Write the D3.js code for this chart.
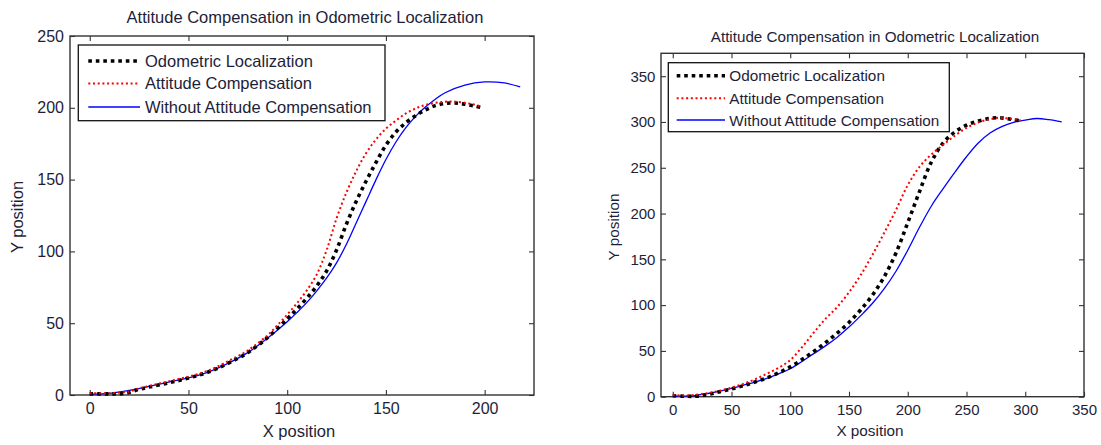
<!DOCTYPE html>
<html>
<head>
<meta charset="utf-8">
<script src="https://cdn.jsdelivr.net/npm/d3@7/dist/d3.min.js"></script>
<style>
  html, body { margin: 0; padding: 0; background: #fff; }
  svg { display: block; }
  text { font-family: Arial, "Liberation Sans", sans-serif; fill: #1e1e38; }
</style>
</head>
<body>
<svg id="chart" width="1101" height="445"></svg>
<script>
// ---------------- DATA ----------------
const chartTitle = "Attitude Compensation in Odometric Localization";
const seriesNames = ["Odometric Localization", "Attitude Compensation", "Without Attitude Compensation"];
const xLabel = "X position";
const yLabel = "Y position";

// Left panel
const leftXTicks = [0, 50, 100, 150, 200];
const leftYTicks = [0, 50, 100, 150, 200, 250];
const leftOdometric = [[0,0.8],[10,0.8],[18,1.2],[25,4],[30,5.5],[40,8.5],[50,11.8],[60,16],[70,22],[80,29.5],[90,40],[100,53],[105,60],[110,67.5],[115,76],[120,86.5],[125,101],[130,119],[135,135],[140,149],[145,162],[150,174],[155,183],[160,189.5],[165,194.5],[170,198.5],[175,201.5],[180,203],[185,203.3],[190,202.5],[195,201.2],[199,200]];
const leftAttitude = [[0,1.2],[10,1.3],[20,2.5],[26,5],[30,6.3],[40,9.5],[50,12.8],[60,17],[70,23.5],[80,31],[90,41.5],[95,48.5],[100,56],[105,64],[110,73],[115,84],[120,101],[125,123],[130,141],[135,156],[140,168.5],[145,178],[150,185.5],[155,191],[160,196],[165,199.5],[170,202],[178,204],[185,204.3],[192,203],[198,201]];
const leftWithout = [[0,0.5],[10,1.2],[20,3.2],[30,6],[40,9],[50,12],[60,16],[70,22],[80,29.5],[90,39.5],[100,51],[105,57.5],[110,64.5],[115,72.5],[120,81.5],[125,92],[130,105],[135,120],[140,135],[145,150],[150,164],[155,176],[160,186],[165,194],[170,200.5],[175,206],[180,210.5],[190,215.8],[200,218],[210,217.3],[218,214.5]];

// Right panel
const rightXTicks = [0, 50, 100, 150, 200, 250, 300, 350];
const rightYTicks = [0, 50, 100, 150, 200, 250, 300, 350];
const rightOdometric = [[0,1],[10,0.5],[20,0.6],[30,2.5],[40,5.5],[50,8.5],[60,12],[70,16],[80,20.5],[90,26],[100,32.5],[110,40.5],[120,49.5],[130,59],[140,69.5],[150,81],[160,95],[170,111],[180,131],[190,157],[200,190],[210,224],[220,256],[230,277],[240,289],[250,296.5],[260,301],[270,304],[278,304.6],[288,303],[297,301]];
const rightAttitude = [[0,1.8],[10,1.2],[20,2.2],[30,4],[40,6.5],[50,10],[60,14],[70,19],[80,25],[90,31.5],[100,40],[110,54],[120,70],[130,85],[140,98],[150,114],[160,133],[170,155],[180,179],[190,204],[200,231],[210,251],[220,264.5],[230,275],[240,285],[250,293.5],[260,299.5],[270,303],[278,304.6],[287,303.5],[296,302]];
const rightWithout = [[0,0.7],[10,0.7],[20,1.5],[30,3.5],[40,6],[50,9],[60,12.5],[70,16],[80,20],[90,25],[100,30.5],[110,38.5],[120,47],[130,55.5],[140,65],[150,76],[160,88.5],[170,102],[180,118],[190,137],[200,160],[210,185],[220,208],[230,227],[240,245],[250,262],[260,277],[270,288],[280,295],[290,299.5],[300,302],[310,303.8],[320,302.5],[331,300]];

// ---------------- STYLE ----------------
const styles = [
  { color: "#000000", width: 3.6, dash: "3.6,3.9" },
  { color: "#ff0000", width: 2.0, dash: "2,2.7" },
  { color: "#0000ff", width: 1.3, dash: null }
];

const svg = d3.select("#chart");

function panel(cfg) {
  const g = svg.append("g");
  const x = d3.scaleLinear().domain(cfg.xDomain).range([cfg.left, cfg.right]);
  const y = d3.scaleLinear().domain(cfg.yDomain).range([cfg.bottom, cfg.top]);
  const fs = cfg.fontSize;

  // title
  g.append("text").attr("x", cfg.titleX).attr("y", cfg.titleY)
    .attr("text-anchor", "middle").style("font-size", cfg.titleSize + "px").text(chartTitle);

  // axes
  const ax = (gen, tr, vals, pad, labels) => {
    const a = g.append("g").attr("transform", tr)
      .call(gen.tickValues(vals).tickSizeInner(-5).tickSizeOuter(0).tickPadding(pad)
        .tickFormat(labels ? d3.format("d") : () => ""));
    a.select(".domain").remove();
    a.selectAll("line").attr("stroke", "#333").attr("stroke-width", 1.1);
    a.selectAll("text").style("font-size", fs + "px").attr("fill", "#1e1e38");
    return a;
  };
  ax(d3.axisBottom(x), `translate(0,${cfg.bottom})`, cfg.xTicks, cfg.xPad, true);
  ax(d3.axisTop(x), `translate(0,${cfg.top})`, cfg.xTicks, 3, false);
  ax(d3.axisLeft(y), `translate(${cfg.left},0)`, cfg.yTicks, cfg.yPad, true);
  ax(d3.axisRight(y), `translate(${cfg.right},0)`, cfg.yTicks, 3, false);

  // box
  g.append("rect").attr("x", cfg.left).attr("y", cfg.top)
    .attr("width", cfg.right - cfg.left).attr("height", cfg.bottom - cfg.top)
    .attr("fill", "none").attr("stroke", "#333").attr("stroke-width", 1.4);

  // axis labels
  g.append("text").attr("x", cfg.xLabelX).attr("y", cfg.xLabelY).attr("text-anchor", "middle")
    .style("font-size", cfg.labelSize + "px").text(xLabel);
  g.append("text").attr("transform", `translate(${cfg.yLabelX},${cfg.yLabelY}) rotate(-90)`)
    .attr("text-anchor", "middle").style("font-size", cfg.labelSize + "px").text(yLabel);

  // lines
  const line = d3.line().x(d => x(d[0])).y(d => y(d[1])).curve(d3.curveCatmullRom.alpha(0.5));
  const order = [2, 0, 1];
  order.forEach(i => {
    const p = g.append("path").datum(cfg.series[i]).attr("d", line)
      .attr("fill", "none").attr("stroke", styles[i].color).attr("stroke-width", styles[i].width)
      .attr("stroke-linejoin", "round");
    if (styles[i].dash) p.attr("stroke-dasharray", styles[i].dash);
  });

  // legend
  const L = cfg.legend;
  g.append("rect").attr("x", L.x0).attr("y", L.y0).attr("width", L.x1 - L.x0).attr("height", L.y1 - L.y0)
    .attr("fill", "#fff").attr("stroke", "#111").attr("stroke-width", 1.3);
  seriesNames.forEach((name, i) => {
    const cy = L.rows[i];
    const p = g.append("line").attr("x1", L.s0).attr("x2", L.s1).attr("y1", cy).attr("y2", cy)
      .attr("stroke", styles[i].color).attr("stroke-width", styles[i].width);
    if (styles[i].dash) p.attr("stroke-dasharray", styles[i].dash);
    g.append("text").attr("x", L.tx).attr("y", cy).attr("dy", "0.36em")
      .style("font-size", L.size + "px").text(name);
  });
}

panel({
  left: 70, right: 534, top: 36, bottom: 395,
  xDomain: [-10, 225], yDomain: [0, 250],
  xTicks: leftXTicks, yTicks: leftYTicks,
  fontSize: 16, xPad: 8, yPad: 6,
  titleX: 305, titleY: 22.5, titleSize: 16.5,
  labelSize: 16.5, xLabelX: 299, xLabelY: 437, yLabelX: 22.5, yLabelY: 217,
  series: [leftOdometric, leftAttitude, leftWithout],
  legend: { x0: 78.3, x1: 385, y0: 45, y1: 120.7, s0: 88.3, s1: 140, tx: 145, rows: [61, 83.5, 107], size: 16.5 }
});

panel({
  left: 661, right: 1084, top: 53.3, bottom: 396.7,
  xDomain: [-10, 350], yDomain: [0, 375],
  xTicks: rightXTicks, yTicks: rightYTicks,
  fontSize: 15, xPad: 7.5, yPad: 5.6,
  titleX: 875, titleY: 41.5, titleSize: 15.2,
  labelSize: 15.3, xLabelX: 870, xLabelY: 435.5, yLabelX: 618.5, yLabelY: 227,
  series: [rightOdometric, rightAttitude, rightWithout],
  legend: { x0: 668.3, x1: 949.3, y0: 62.7, y1: 131.7, s0: 676.7, s1: 725, tx: 729.3, rows: [75.7, 98.3, 120], size: 15.3 }
});
</script>
</body>
</html>
